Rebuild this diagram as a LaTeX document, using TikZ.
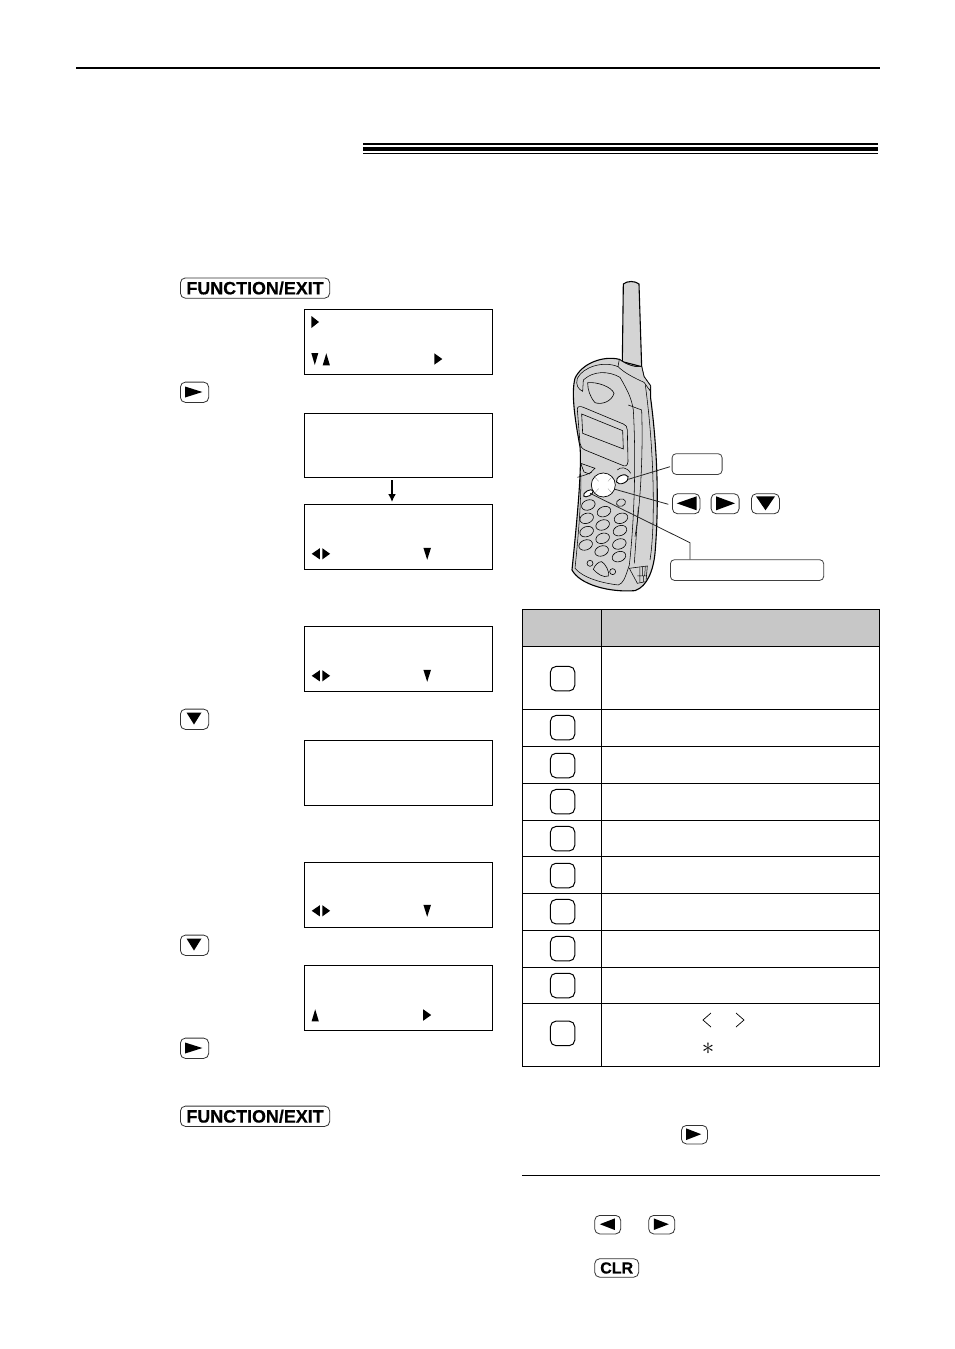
\documentclass[tikz,border=0pt]{standalone}
\usepackage{fontspec}
\setmainfont{Liberation Sans}
\newfontfamily\keyfont[FakeBold=0.35]{Liberation Sans Bold}
\usetikzlibrary{arrows.meta}
\definecolor{hdr}{gray}{0.78}
\definecolor{body}{gray}{0.83}
\tikzset{
 display/.style={draw,line width=1pt,minimum width=188pt,minimum height=64.8pt,inner sep=0pt,anchor=north west},
 keybox/.style={draw=black!80,line width=.8pt,rounded corners=5pt,inner sep=0pt,anchor=north west},
 emptybox/.style={draw=black!75,line width=.8pt,rounded corners=4pt,inner sep=0pt,anchor=north west},
 bigkey/.style={keybox,minimum width=149.3pt,minimum height=20.3pt,font=\fontsize{17.9}{17.9}\keyfont},
 smallkey/.style={keybox,minimum width=28.3pt,minimum height=20.3pt},
 tblkey/.style={keybox,minimum width=26pt,minimum height=18.5pt},
 rowkey/.style={draw,line width=1pt,rounded corners=5.5pt,minimum width=24.3pt,minimum height=24.5pt,inner sep=0pt,anchor=center},
 tbl/.style={line width=1pt},
 phone/.style={line width=1.1pt,fill=body},
 panel/.style={line width=.55pt},
 phonekey/.style={line width=.6pt,fill=body},
 lead/.style={line width=.8pt,black!85},
}
% triangle helpers: centre x,y and half width/height in px
\newcommand{\triR}[4]{\fill (#1-#3,#2-#4) -- (#1+#3,#2) -- (#1-#3,#2+#4) -- cycle;}
\newcommand{\triL}[4]{\fill (#1+#3,#2-#4) -- (#1-#3,#2) -- (#1+#3,#2+#4) -- cycle;}
\newcommand{\triD}[4]{\fill (#1-#3,#2-#4) -- (#1+#3,#2-#4) -- (#1,#2+#4) -- cycle;}
\newcommand{\triU}[4]{\fill (#1-#3,#2+#4) -- (#1+#3,#2+#4) -- (#1,#2-#4) -- cycle;}
\begin{document}
\begin{tikzpicture}[x=1pt,y=-1pt]
\useasboundingbox (0,0) rectangle (954,1349);
\fill[white] (0,0) rectangle (954,1349);
% top rules
\fill (76,67) rectangle (880,69);
\fill (363,143) rectangle (878,145);
\fill (363,146.7) rectangle (878,151.4);
\fill (363,153) rectangle (878,154.2);

% left keys
\node[bigkey] (fe1) at (180,277.5) {FUNCTION/EXIT};
\node[smallkey] (kr1) at (180,381.7) {};
\triR{193.7}{392}{8.7}{5.5}
\node[smallkey] (kd1) at (180,708.7) {};
\triD{194}{718.5}{7.5}{6}
\node[smallkey] (kd2) at (180,934.7) {};
\triD{194}{944.5}{7.5}{6}
\node[smallkey] (kr2) at (180,1037.7) {};
\triR{193.7}{1048}{8.7}{5.5}
\node[bigkey] (fe2) at (180,1105.7) {FUNCTION/EXIT};

% displays
\node[display] (d1) at (304.3,309.3) {};
\node[display] (d2) at (304.3,412.6) {};
\node[display] (d3) at (304.3,504.3) {};
\node[display] (d4) at (304.3,626.3) {};
\node[display] (d5) at (304.3,740) {};
\node[display] (d6) at (304.3,862) {};
\node[display] (d7) at (304.3,965.3) {};
\coordinate (a1) at (392,480);
\coordinate (a2) at (392,502);
\draw[line width=1.6pt,-{Latex[length=8pt,width=8pt]}] (a1) -- (a2);
\triR{315.2}{322}{3.8}{6}
\triD{314.8}{359}{3.5}{6}\triU{326.3}{359.3}{3.6}{6}\triR{438.3}{359}{4}{5.7}
\triL{315.8}{553.8}{4.1}{5.6}\triR{326.2}{553.8}{3.9}{5.6}\triD{427.2}{553.8}{3.8}{6}
\triL{315.8}{675.8}{4.1}{5.6}\triR{326.2}{675.8}{3.9}{5.6}\triD{427.2}{675.8}{3.8}{6}
\triL{315.8}{910.8}{4.1}{5.6}\triR{326.2}{910.8}{3.9}{5.6}\triD{427.2}{910.8}{3.8}{6}
\triU{315.2}{1015.3}{3.6}{6}\triR{427.2}{1015}{4}{5.7}

% phone
\begin{scope}[shift={(540,270)},scale=0.3333]
 \draw[phone] (247,275) -- (250,42) .. controls (262,32) and (285,32) .. (297,42) -- (305,290) -- cycle;
 \draw[phone] (238,268) .. controls (190,256) and (125,280) .. (105,325) .. controls (93,370) and (105,450) .. (120,530) .. controls (126,600) and (110,760) .. (96,900) .. controls (120,945) and (210,968) .. (285,962) .. controls (322,950) and (340,900) .. (345,850) .. controls (356,720) and (355,560) .. (332,385) -- (332,348) -- (312,320) -- (305,290) .. controls (285,292) and (260,285) .. (238,268) -- cycle;
 % collar
 \draw[panel,fill=body] (238,268) -- (234,290) .. controls (255,310) and (285,325) .. (312,337) -- (330,362) -- (332,348) -- (312,320) -- (305,290) .. controls (285,292) and (260,285) .. (238,268) -- cycle;
 % front panel
 \draw[panel] (234,290) .. controls (190,272) and (130,290) .. (112,325) .. controls (106,345) and (115,358) .. (128,364) -- (130,330) .. controls (160,302) and (205,302) .. (240,322) .. controls (262,360) and (275,385) .. (280,420) .. controls (290,600) and (280,780) .. (268,885) .. controls (255,925) and (250,940) .. (235,945) .. controls (190,940) and (130,925) .. (105,895) .. controls (115,800) and (125,680) .. (122,610);
 \draw[panel] (316,345) .. controls (345,560) and (345,780) .. (330,870);
 \draw[panel] (265,405) -- (305,420) .. controls (310,560) and (300,720) .. (285,800);
 \draw[panel] (295,710) -- (283,880);
 \draw[phonekey] (143,338) .. controls (170,335) and (215,350) .. (222,370) .. controls (215,395) and (185,405) .. (165,398) .. controls (150,380) and (143,360) .. (143,338) -- cycle;
 \draw[phonekey] (112,418) .. controls (112,408) and (120,408) .. (130,412) -- (250,462) .. controls (258,466) and (262,470) .. (262,480) -- (264,575) .. controls (262,590) and (255,590) .. (245,585) -- (135,540) .. controls (125,535) and (122,530) .. (120,520) -- cycle;
 \draw[phonekey] (125,432) -- (248,482) -- (250,537) -- (128,490) -- cycle;
 \draw[phonekey] (122,580) -- (165,595) -- (148,612) -- (132,606) -- cycle;
 \draw[panel] (112,622) .. controls (125,618) and (140,615) .. (155,606);
 \draw[panel] (232,600) .. controls (240,590) and (262,590) .. (272,610);
 \draw[line width=.7pt,fill=white] (190,645) circle (36);
 \draw[line width=.3pt,black!45] (165,622) -- (176,634) (215,622) -- (204,634) (165,668) -- (176,656) (215,668) -- (204,656);
 \draw[line width=.9pt,fill=white,rotate around={25:(247,628)}] (247,628) ellipse (19 and 12);
 \draw[line width=.9pt,fill=white,rotate around={30:(145,670)}] (145,670) ellipse (16 and 8);
 \foreach \kx/\ky in {145/705,192/725,243/745,140/745,188/765,240/782,140/785,188/805,238/822,137/825,185/843,237/860}
  \draw[phonekey,rotate around={20:(\kx,\ky)}] (\kx,\ky) ellipse (21 and 15);
 \draw[phonekey,rotate around={20:(243,698)}] (243,698) ellipse (14 and 11);
 \draw[phonekey] (150,880) circle (9);
 \draw[phonekey] (218,905) circle (9);
 \draw[phonekey] (185,875) .. controls (195,880) and (210,905) .. (205,918) .. controls (190,925) and (170,910) .. (160,898) .. controls (165,885) and (175,875) .. (185,875) -- cycle;
 \draw[panel,fill=body] (268,895) -- (322,888) -- (318,935) -- (292,940) -- cycle;
 \draw[line width=.5pt] (300,892) -- (300,918) (308,890) -- (308,918) (316,889) -- (314,918) (292,918) -- (320,918) (300,918) -- (300,938) (310,918) -- (310,936);
\end{scope}

% callout boxes
\node[emptybox,minimum width=50pt,minimum height=20.7pt] (call) at (671.7,453.3) {};
\node[smallkey,minimum width=27.5pt,minimum height=20pt] (ka1) at (672,493.3) {};
\triL{686.7}{503.3}{10}{7}
\node[smallkey,minimum width=28pt,minimum height=20pt] (ka2) at (710.7,493.3) {};
\triR{725.5}{503.3}{9.5}{7}
\node[smallkey,minimum width=28pt,minimum height=20pt] (ka3) at (751,493.3) {};
\triD{765.5}{503.3}{9.5}{7}
\node[emptybox,minimum width=153.3pt,minimum height=20.7pt] (wide) at (670,559.3) {};
\coordinate (p1) at (628.3,479.3);
\coordinate (p2) at (615,489.3);
\coordinate (p3) at (590,493.3);
\coordinate (p4) at (690,542.7);
\coordinate (c1) at (670,466.7);
\coordinate (c2) at (668.3,504.3);
\draw[lead] (c1) -- (p1);
\draw[lead] (c2) -- (p2);
\draw[lead] (wide.north -| p4) -- (p4) -- (p3);

% table
\fill[hdr] (522.5,609.8) rectangle (879.5,646.5);
\draw[tbl] (522.5,609.8) rectangle (879.5,1066);
\draw[tbl] (601.3,609.8) -- (601.3,1066);
\foreach \yy in {646.5,709.5,746.3,783.3,820.3,856.3,893.3,930.3,967.3,1003.4} \draw[tbl] (522.5,\yy) -- (879.5,\yy);
\foreach \nn/\yy in {a/678.7,b/727.7,c/765.5,d/801.7,e/838.7,f/875.5,g/911.7,h/948.7,i/985.5,j/1033.4}
  \node[rowkey] (row\nn) at (562.6,\yy) {};
\draw[line width=.7pt] (711,1013) -- (703,1020) -- (711,1027);
\draw[line width=.7pt] (736,1013) -- (744,1020) -- (736,1027);
\node[inner sep=0pt,font=\fontsize{30}{30}\selectfont] (star) at (708,1049) {$\ast$};

% lower right keys
\node[tblkey] (kt) at (681,1125) {};
\triR{693.7}{1134.2}{7.5}{5.8}
\fill (522,1174.5) rectangle (880,1175.8);
\node[tblkey] (kl) at (594.3,1215) {};
\triL{607.3}{1224.2}{7.5}{5.8}
\node[tblkey] (kr) at (648.3,1215) {};
\triR{661.3}{1224.2}{7.5}{5.8}
\node[keybox,minimum width=44pt,minimum height=18.5pt,font=\fontsize{16}{16}\keyfont] (clr) at (594.3,1258.3) {CLR};
\end{tikzpicture}
\end{document}
